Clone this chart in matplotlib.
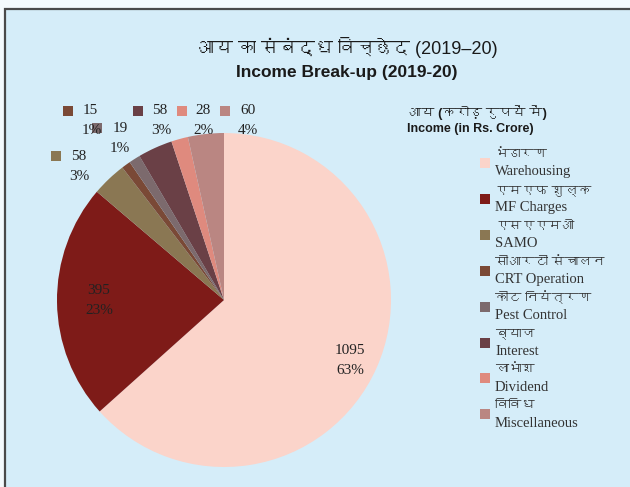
import matplotlib
matplotlib.use("Agg")
import matplotlib.pyplot as plt
from matplotlib.patches import Rectangle
from matplotlib import font_manager
from matplotlib.ft2font import FT2Font

# ---------------- data ----------------
categories_hi = ["भंडारण", "एमएफ शुल्क", "एसएएमओ", "सीआरटी संचालन",
                 "कीट नियंत्रण", "ब्याज", "लाभांश", "विविध"]
categories_en = ["Warehousing", "MF Charges", "SAMO", "CRT Operation",
                 "Pest Control", "Interest", "Dividend", "Miscellaneous"]
values = [1095, 395, 58, 15, 19, 58, 28, 60]
pct_labels = ["63%", "23%", "3%", "1%", "1%", "3%", "2%", "4%"]
colors = ["#fbd4ca", "#7e1b18", "#8a7753", "#7a4936", "#7c6a6d",
          "#6a4046", "#df8a7e", "#ba8682"]
title_hi = "आय का संबंद्ध विच्छेद (2019–20)"
title_en = "Income Break-up (2019-20)"
legend_title_hi = "आय (करोड़ रुपयें में)"
legend_title_en = "Income (in Rs. Crore)"

# ------------- find a Devanagari font, if any -------------
deva = None
for f in font_manager.fontManager.ttflist:
    try:
        if 0x0915 in FT2Font(f.fname).get_charmap():
            deva = f.name
            break
    except Exception:
        pass

def fam(base):
    out = [base]
    if deva:
        out.append(deva)
    out.append("DejaVu Sans")
    return out

SERIF = fam("Liberation Serif")
SANS = fam("Liberation Sans")

W, H = 630, 487
fig = plt.figure(figsize=(W / 100, H / 100), dpi=100, facecolor="#f4fafd")

def fx(x):
    return x / W

def fy(y):
    return 1 - y / H

# panel background with border
fig.patches.append(Rectangle((fx(4.5), -0.05), 1.1, fy(8.5) + 0.05,
                             transform=fig.transFigure, facecolor="#d5edf9",
                             edgecolor="#4a4a4a", lw=1.6, zorder=-5))

# ---------------- pie ----------------
cx, cy, r = 224, 300, 167
ax = fig.add_axes([fx(cx - r), fy(cy + r), 2 * r / W, 2 * r / H])
ax.set_zorder(1)
ax.patch.set_visible(False)
wedges, _ = ax.pie(values, colors=colors, startangle=90, counterclock=False,
                   wedgeprops=dict(linewidth=0))
for w in wedges:
    w.set_clip_on(False)
ax.set_xlim(-1, 1)
ax.set_ylim(-1, 1)
ax.set_aspect("equal")
ax.axis("off")

def T(x, y, s, **kw):
    kw.setdefault("zorder", 5)
    fig.text(fx(x), fy(y), s, **kw)

# inside labels
inside = {0: (350, 350, 371), 1: (99, 291, 311)}
for i, (x, y1, y2) in inside.items():
    T(x, y1, str(values[i]), ha="center", va="center", fontsize=11,
      family=SERIF, color="#222222")
    T(x, y2, pct_labels[i], ha="center", va="center", fontsize=11,
      family=SERIF, color="#222222")

# outside labels with legend keys: (key_x, value_x, value_y, pct_x, pct_y)
outside = {3: (63, 90, 111, 92, 131),
           4: (92, 120, 128, 120, 149),
           2: (51, 79, 156, 79, 176),
           5: (133, 160, 111, 161, 131),
           6: (177, 203, 111, 204, 131),
           7: (220, 248, 111, 248, 131)}
for i, (kx, vx, vy, px, py) in outside.items():
    fig.patches.append(Rectangle((fx(kx), fy(vy + 5)), 10 / W, 10 / H,
                                 transform=fig.transFigure,
                                 facecolor=colors[i], edgecolor="none", zorder=3))
    T(vx, vy, str(values[i]), ha="center", va="center", fontsize=11,
      family=SERIF, color="#222222")
    T(px, py, pct_labels[i], ha="center", va="center", fontsize=11,
      family=SERIF, color="#222222")

# ---------------- titles ----------------
T(347, 48, title_hi, ha="center", va="center", fontsize=13, family=SANS,
  color="#1a1a1a")
T(347, 73, title_en, ha="center", va="center", fontsize=12.5, family=SANS,
  weight="bold", color="#1a1a1a")

# ---------------- legend ----------------
T(408, 113, legend_title_hi, ha="left", va="center", fontsize=9.5, family=SANS,
  weight="bold", color="#1a1a1a")
T(407, 129, legend_title_en, ha="left", va="center", fontsize=9, family=SANS,
  weight="bold", color="#1a1a1a")
for i in range(len(values)):
    yc = 163 + 35.9 * i
    fig.patches.append(Rectangle((fx(480), fy(yc + 5)), 10 / W, 10 / H,
                                 transform=fig.transFigure,
                                 facecolor=colors[i], edgecolor="none", zorder=3))
    T(495, yc - 8, categories_hi[i], ha="left", va="center", fontsize=9.5,
      family=SANS, color="#333333")
    T(495, yc + 9, categories_en[i], ha="left", va="center", fontsize=10.5,
      family=SERIF, color="#333333")

fig.savefig("out.png", dpi=100, facecolor=fig.get_facecolor())
